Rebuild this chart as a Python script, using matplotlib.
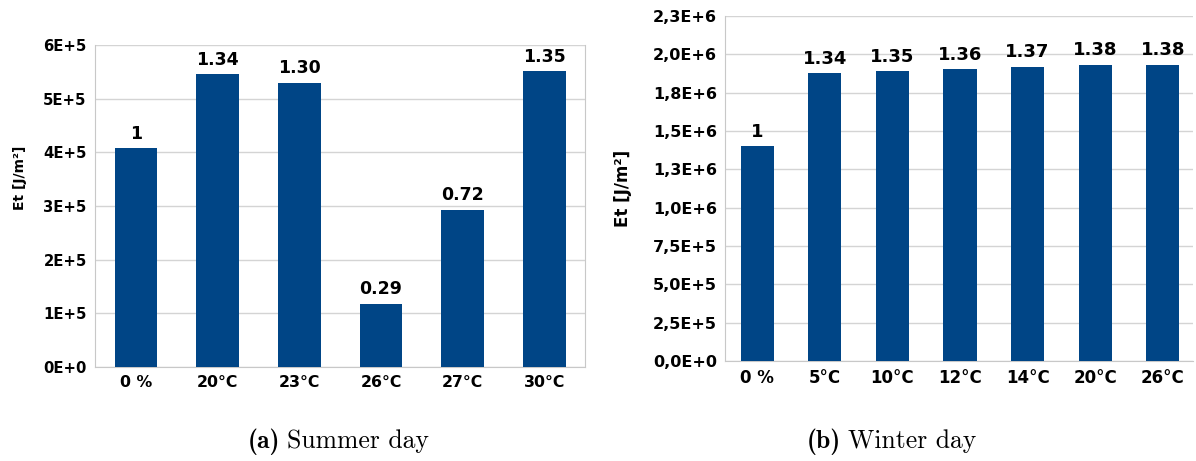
import matplotlib
matplotlib.use("Agg")
import matplotlib.pyplot as plt

# (a) summer day
summer_cats = ['0 %', '20°C', '23°C', '26°C', '27°C', '30°C']
summer_vals = [4.08e5, 5.46e5, 5.30e5, 1.18e5, 2.93e5, 5.51e5]
summer_ratio = ['1', '1.34', '1.30', '0.29', '0.72', '1.35']
summer_ticks = [0, 1e5, 2e5, 3e5, 4e5, 5e5, 6e5]
summer_ticklabels = ['0E+0', '1E+5', '2E+5', '3E+5', '4E+5', '5E+5', '6E+5']

# (b) winter day
winter_cats = ['0 %', '5°C', '10°C', '12°C', '14°C', '20°C', '26°C']
winter_vals = [1.40e6, 1.876e6, 1.89e6, 1.904e6, 1.918e6, 1.932e6, 1.932e6]
winter_ratio = ['1', '1.34', '1.35', '1.36', '1.37', '1.38', '1.38']
winter_ticks = [0, 2.5e5, 5e5, 7.5e5, 1e6, 1.25e6, 1.5e6, 1.75e6, 2e6, 2.25e6]
winter_ticklabels = ['0,0E+0', '2,5E+5', '5,0E+5', '7,5E+5', '1,0E+6',
                     '1,3E+6', '1,5E+6', '1,8E+6', '2,0E+6', '2,3E+6']

BLUE = '#004586'
GRID = '#d4d4d4'


def draw(ax, cats, vals, ratios, ticks, ticklabels, width, sizes, right_spine):
    ann_fs, xt_fs, yt_fs, yl_fs = sizes
    x = range(len(cats))
    ax.bar(x, vals, width=width, color=BLUE, zorder=3)
    for xi, v, r in zip(x, vals, ratios):
        ax.annotate(r, (xi, v), xytext=(0, 4), textcoords='offset points',
                    ha='center', va='bottom', fontsize=ann_fs, fontweight='bold')
    ax.set_xticks(list(x))
    ax.set_xticklabels(cats, fontsize=xt_fs, fontweight='bold')
    ax.set_yticks(ticks)
    ax.set_yticklabels(ticklabels, fontsize=yt_fs, fontweight='bold')
    ax.set_ylim(0, ticks[-1])
    ax.tick_params(length=0, pad=6)
    ax.yaxis.grid(True, color=GRID, linewidth=1, zorder=0)
    ax.spines['top'].set_visible(False)
    ax.spines['right'].set_visible(right_spine)
    for s in ['left', 'bottom', 'right']:
        ax.spines[s].set_color('#c8c8c8')
    ax.set_ylabel('Et [J/m²]', fontsize=yl_fs, fontweight='bold')


fig = plt.figure(figsize=(11.96, 4.61), dpi=100)

ax1 = fig.add_axes([0.0794, 0.204, 0.410, 0.698])
draw(ax1, summer_cats, summer_vals, summer_ratio, summer_ticks, summer_ticklabels,
     0.52, (12.5, 11.3, 10.7, 10), True)
ax1.set_xlim(-0.5, 5.5)
ax1.yaxis.set_label_coords(-0.138, 0.587)

ax2 = fig.add_axes([0.6066, 0.217, 0.391, 0.748])
draw(ax2, winter_cats, winter_vals, winter_ratio, winter_ticks, winter_ticklabels,
     0.49, (13, 12, 11.5, 12), False)
ax2.set_xlim(-0.47, 6.45)
ax2.yaxis.set_label_coords(-0.2, 0.5)

# captions: bold label + roman text
for lab, txt, xs in [('(a)', 'Summer day', 280), ('(b)', 'Winter day', 841)]:
    fig.text(xs / 1196, 0.028, lab, ha='right', va='baseline',
             fontsize=18.5, family='cmb10')
    fig.text((xs + 7) / 1196, 0.028, txt, ha='left', va='baseline',
             fontsize=18.5, family='cmr10')

fig.savefig('out.png', dpi=100)
